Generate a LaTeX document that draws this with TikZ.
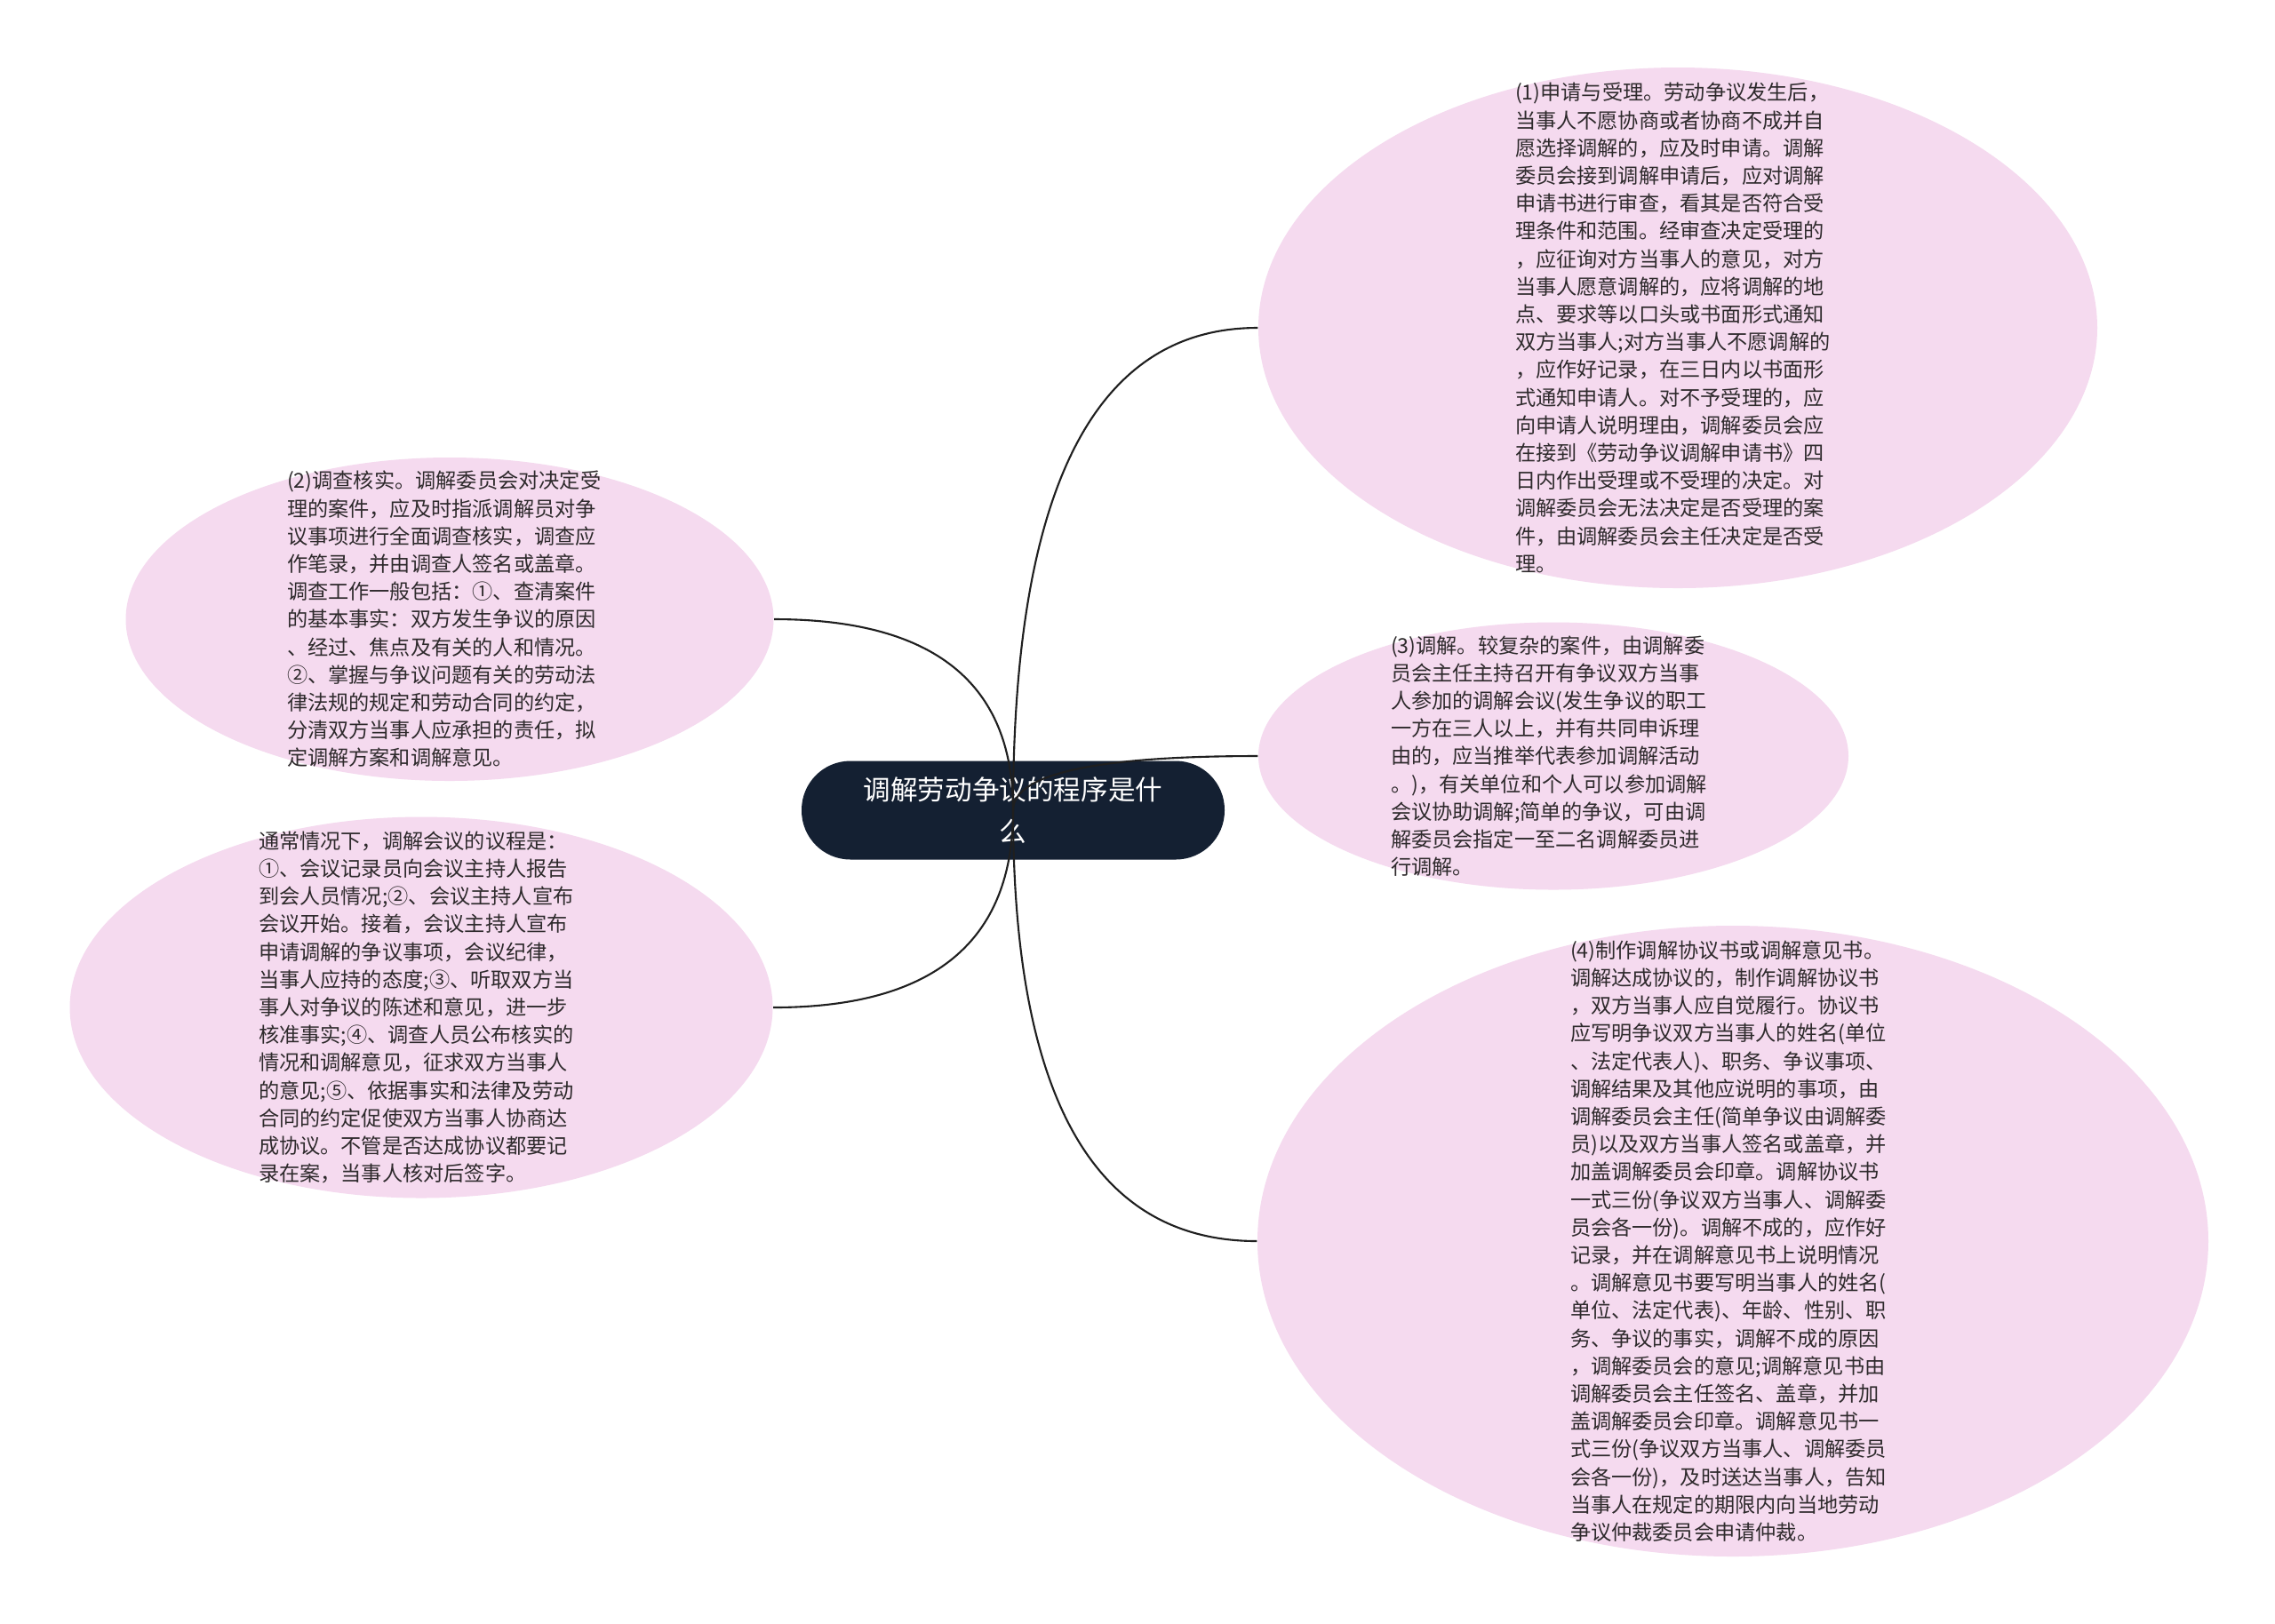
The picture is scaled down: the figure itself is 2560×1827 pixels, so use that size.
\documentclass[tikz,border=0pt]{standalone}
\usepackage{fontspec}
\setmainfont{Noto Sans CJK SC}
\usetikzlibrary{shapes.geometric, calc}
\definecolor{leafpink}{HTML}{F5DAEF}
\definecolor{rootnavy}{HTML}{142032}
\definecolor{leafink}{HTML}{2E2A2C}
\definecolor{linkgray}{HTML}{1F1F1F}

\begin{document}
\begin{tikzpicture}[x=0.1mm, y=-0.1mm,
	leaf/.style={ellipse, fill=leafpink, inner sep=0pt},
	note/.style={align=left, text width=36.6mm, inner sep=0pt, text=leafink,
		font=\fontsize{6.6pt}{8.88pt}\selectfont},
	root/.style={rectangle, rounded corners=5.5mm, fill=rootnavy, text=white,
		minimum width=47.6mm, minimum height=11.1mm, align=center,
		font=\fontsize{8.7pt}{13.4pt}\selectfont},
	link/.style={draw=linkgray, line width=0.6pt}]
	\fill [white] (0,0) rectangle (2560,1827);
	\useasboundingbox (0,0) rectangle (2560,1827);

	% ellipses
	\node [leaf, minimum width=94.4mm, minimum height=58.6mm] (apply) at (1888,369) {};
	\node [leaf, minimum width=72.9mm, minimum height=36.4mm] (check) at (506,697) {};
	\node [leaf, minimum width=79.1mm, minimum height=42.9mm] (agenda) at (474,1134) {};
	\node [leaf, minimum width=66.4mm, minimum height=30.1mm] (mediate) at (1748,851) {};
	\node [leaf, minimum width=107mm, minimum height=71mm] (record) at (1950,1397) {};

	% texts
	\node [note] (applytxt) at (apply) {(1)申请与受理。劳动争议发生后，\\当事人不愿协商或者协商不成并自\\愿选择调解的，应及时申请。调解\\委员会接到调解申请后，应对调解\\申请书进行审查，看其是否符合受\\理条件和范围。经审查决定受理的\\，应征询对方当事人的意见，对方\\当事人愿意调解的，应将调解的地\\点、要求等以口头或书面形式通知\\双方当事人;对方当事人不愿调解的\\，应作好记录，在三日内以书面形\\式通知申请人。对不予受理的，应\\向申请人说明理由，调解委员会应\\在接到《劳动争议调解申请书》四\\日内作出受理或不受理的决定。对\\调解委员会无法决定是否受理的案\\件，由调解委员会主任决定是否受\\理。};
	\node [note] (checktxt) at (check) {(2)调查核实。调解委员会对决定受\\理的案件，应及时指派调解员对争\\议事项进行全面调查核实，调查应\\作笔录，并由调查人签名或盖章。\\调查工作一般包括：①、查清案件\\的基本事实：双方发生争议的原因\\、经过、焦点及有关的人和情况。\\②、掌握与争议问题有关的劳动法\\律法规的规定和劳动合同的约定，\\分清双方当事人应承担的责任，拟\\定调解方案和调解意见。};
	\node [note] (agendatxt) at (agenda) {通常情况下，调解会议的议程是：\\①、会议记录员向会议主持人报告\\到会人员情况;②、会议主持人宣布\\会议开始。接着，会议主持人宣布\\申请调解的争议事项，会议纪律，\\当事人应持的态度;③、听取双方当\\事人对争议的陈述和意见，进一步\\核准事实;④、调查人员公布核实的\\情况和调解意见，征求双方当事人\\的意见;⑤、依据事实和法律及劳动\\合同的约定促使双方当事人协商达\\成协议。不管是否达成协议都要记\\录在案，当事人核对后签字。};
	\node [note] (mediatetxt) at (mediate) {(3)调解。较复杂的案件，由调解委\\员会主任主持召开有争议双方当事\\人参加的调解会议(发生争议的职工\\一方在三人以上，并有共同申诉理\\由的，应当推举代表参加调解活动\\。)，有关单位和个人可以参加调解\\会议协助调解;简单的争议，可由调\\解委员会指定一至二名调解委员进\\行调解。};
	\node [note] (recordtxt) at (record) {(4)制作调解协议书或调解意见书。\\调解达成协议的，制作调解协议书\\，双方当事人应自觉履行。协议书\\应写明争议双方当事人的姓名(单位\\、法定代表人)、职务、争议事项、\\调解结果及其他应说明的事项，由\\调解委员会主任(简单争议由调解委\\员)以及双方当事人签名或盖章，并\\加盖调解委员会印章。调解协议书\\一式三份(争议双方当事人、调解委\\员会各一份)。调解不成的，应作好\\记录，并在调解意见书上说明情况\\。调解意见书要写明当事人的姓名(\\单位、法定代表)、年龄、性别、职\\务、争议的事实，调解不成的原因\\，调解委员会的意见;调解意见书由\\调解委员会主任签名、盖章，并加\\盖调解委员会印章。调解意见书一\\式三份(争议双方当事人、调解委员\\会各一份)，及时送达当事人，告知\\当事人在规定的期限内向当地劳动\\争议仲裁委员会申请仲裁。};

	\node [root] (root) at (1140,912) {调解劳动争议的程序是什\\么};

	% connectors
	\foreach \n/\a in {apply/west, mediate/west, record/west, check/east, agenda/east}
		\draw [link] (root.center) .. controls ($(root.center)!0.667!(root.center |- \n.\a)$) and ($(\n.\a)!0.667!(root.center |- \n.\a)$) .. (\n.\a);
\end{tikzpicture}
\end{document}
